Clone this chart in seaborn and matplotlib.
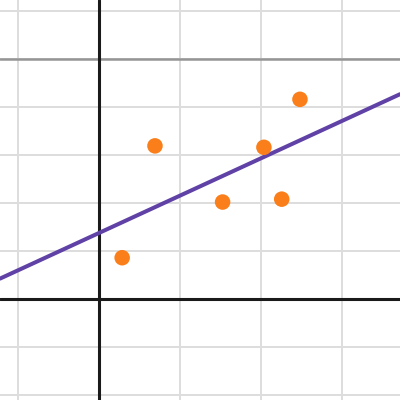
import matplotlib
matplotlib.use("Agg")
import matplotlib.pyplot as plt
import numpy as np
import pandas as pd
import seaborn as sns

# points
x_values = [0.28, 0.685, 1.52, 2.03, 2.25, 2.475]
y_values = [0.86, 3.19, 2.02, 3.16, 2.08, 4.16]
reference_y = 5

x_grid = [-1, 0, 1, 2, 3]
y_grid = [-2, -1, 0, 1, 2, 3, 4, 5, 6]

df = pd.DataFrame({"x": x_values, "y": y_values})

sns.set_style("white")
fig = plt.figure(figsize=(4, 4), dpi=100)
ax = fig.add_axes([0, 0, 1, 1])

ax.set_xlim(-1.228, 3.71)
ax.set_ylim(-2.104, 6.229)

ax.set_xticks(x_grid)
ax.set_yticks(y_grid)
ax.grid(True, color="#dddddd", linewidth=1.4, zorder=0)
ax.tick_params(length=0, labelleft=False, labelbottom=False)
for s in ax.spines.values():
    s.set_visible(False)

ax.axhline(reference_y, color="#959595", linewidth=1.8, zorder=1)
ax.axhline(0, color="#1a1a1a", linewidth=2.2, zorder=2)
ax.axvline(0, color="#1a1a1a", linewidth=2.2, zorder=2)

# least squares line across the whole view
sns.regplot(data=df, x="x", y="y", ax=ax, scatter=False, ci=None, truncate=False,
            line_kws={"color": "#6042a6", "linewidth": 2.9, "zorder": 3})
sns.scatterplot(data=df, x="x", y="y", ax=ax, color="#fa7e19", s=125,
                edgecolor="none", zorder=4)

ax.set_xlim(-1.228, 3.71)
ax.set_ylim(-2.104, 6.229)
ax.set_xlabel("")
ax.set_ylabel("")

fig.savefig("out.png", dpi=100)
